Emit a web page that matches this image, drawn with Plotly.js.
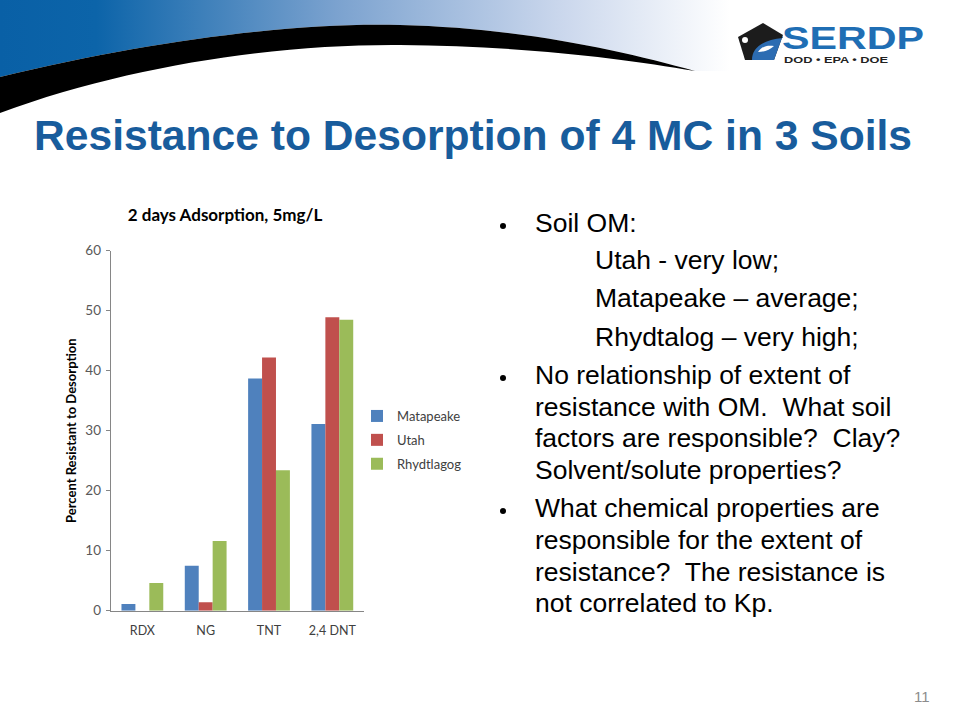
<!DOCTYPE html>
<html>
<head>
<meta charset="utf-8">
<script src="https://cdn.plot.ly/plotly-3.0.1.min.js"></script>
<style>
  html, body { margin:0; padding:0; background:#ffffff; width:960px; height:720px; overflow:hidden; }
  #bg { position:absolute; left:0; top:0; width:960px; height:720px; }
  .t { position:absolute; font-family:"Liberation Sans", Arial, sans-serif; white-space:nowrap; line-height:1; }
  .b { font-size:26.5px; color:#000; }
  .dot { position:absolute; width:6px; height:6px; border-radius:50%; background:#000; }
  #chart { position:absolute; left:0; top:0; width:960px; height:720px; }
</style>
</head>
<body>
<svg id="bg" width="960" height="720" xmlns="http://www.w3.org/2000/svg">
  <defs>
    <linearGradient id="hg" x1="0" y1="0" x2="960" y2="0" gradientUnits="userSpaceOnUse">
      <stop offset="0" stop-color="#0960a6"/>
      <stop offset="0.10" stop-color="#0c64a9"/>
      <stop offset="0.35" stop-color="#7ba2cf"/>
      <stop offset="0.58" stop-color="#c9d6ec"/>
      <stop offset="0.76" stop-color="#ffffff"/>
    </linearGradient>
  </defs>
  <path d="M0,0 H740 V90 H0 Z" fill="url(#hg)"/>
  <path d="M0,77 C150,40 300,22 400,25 C520,28 620,50 695,71 L740,71 L740,140 L0,140 Z" fill="#ffffff"/>
  <path d="M0,77 C150,40 300,22 400,25 C520,28 620,50 695,71 C620,58 520,46 400,45 C280,44 130,65 0,113 Z" fill="#000000"/>
  <!-- logo -->
  <path d="M763,23 L783,35 L774,60 L745,60 L738,37 Z" fill="#1c1c1c"/>
  <path d="M783,35 L774,60 L752,60 C752,48 762,40 783,38 Z" fill="#2c6cb2"/>
  <circle cx="745" cy="40" r="3" fill="#ffffff"/>
  <path d="M758,52 C762,46 768,45 774,46 C770,50 764,52 758,52 Z" fill="#ffffff"/>
  <text x="782" y="48.5" font-family="Liberation Sans, Arial, sans-serif" font-weight="bold" font-size="32" fill="#1f6eb4" textLength="142" lengthAdjust="spacingAndGlyphs">SERDP</text>
  <text x="784" y="63" font-family="Liberation Sans, Arial, sans-serif" font-weight="bold" font-size="9.5" fill="#222222" textLength="104" lengthAdjust="spacingAndGlyphs">DOD • EPA • DOE</text>
</svg>

<div class="t" style="left:34px; top:114px; font-size:42.6px; font-weight:bold; color:#185c9c;">Resistance to Desorption of 4 MC in 3 Soils</div>

<div class="dot" style="left:500px; top:223px;"></div>
<div class="t b" style="left:535px; top:210px;">Soil OM:</div>
<div class="t b" style="left:595px; top:247px;">Utah - very low;</div>
<div class="t b" style="left:595px; top:285px;">Matapeake – average;</div>
<div class="t b" style="left:595px; top:324px;">Rhydtalog – very high;</div>
<div class="dot" style="left:500px; top:375px;"></div>
<div class="t b" style="left:535px; top:362px;">No relationship of extent of</div>
<div class="t b" style="left:535px; top:394px;">resistance with OM.&nbsp; What soil</div>
<div class="t b" style="left:535px; top:425px;">factors are responsible?&nbsp; Clay?</div>
<div class="t b" style="left:535px; top:457px;">Solvent/solute properties?</div>
<div class="dot" style="left:500px; top:508px;"></div>
<div class="t b" style="left:535px; top:495px;">What chemical properties are</div>
<div class="t b" style="left:535px; top:527px;">responsible for the extent of</div>
<div class="t b" style="left:535px; top:559px;">resistance?&nbsp; The resistance is</div>
<div class="t b" style="left:535px; top:590px;">not correlated to Kp.</div>

<div class="t" style="left:914px; top:689px; font-size:15px; color:#8c8c8c;">11</div>

<div id="chart"></div>
<script>
const categories = ["RDX", "NG", "TNT", "2,4 DNT"];
const seriesNames = ["Matapeake", "Utah", "Rhydtlagog"];
const matapeake = [1.1, 7.5, 38.7, 31.1];
const utah = [0, 1.4, 42.2, 48.9];
const rhydtlagog = [4.6, 11.6, 23.4, 48.5];
const yTicks = [0, 10, 20, 30, 40, 50, 60];
const colors = ["#4f81bd", "#c0504d", "#9bbb59"];
const values = [matapeake, utah, rhydtlagog];

const font = "Lato, 'Open Sans', sans-serif";
const traces = values.map((v, i) => ({
  type: "bar",
  name: seriesNames[i],
  x: categories,
  y: v,
  marker: { color: colors[i] },
  legendgroup: "g" + i,
  hoverinfo: "x+y+name"
}));

const layout = {
  width: 960, height: 720,
  margin: { l: 0, r: 0, t: 0, b: 0 },
  paper_bgcolor: "rgba(0,0,0,0)",
  plot_bgcolor: "rgba(0,0,0,0)",
  barmode: "group",
  bargap: 0.34,
  bargroupgap: 0,
  showlegend: true,
  title: {
    text: "<b>2 days Adsorption, 5mg/L</b>",
    font: { family: font, size: 17, color: "#000000" },
    x: 225 / 960, xref: "paper", xanchor: "center",
    y: 1 - 215 / 720, yref: "paper", yanchor: "middle"
  },
  legend: {
    x: 357 / 960, xanchor: "left",
    y: 1 - 401 / 720, yanchor: "top",
    font: { family: font, size: 13, color: "#404040" },
    bgcolor: "rgba(0,0,0,0)",
    tracegroupgap: 4,
    itemwidth: 30
  },
  xaxis: {
    domain: [110.7 / 960, 364 / 960],
    type: "category",
    showline: true, linecolor: "#868686", linewidth: 1,
    ticks: "", showgrid: false, zeroline: false,
    tickfont: { family: font, size: 12.5, color: "#404040" },
    ticklabelstandoff: 8,
    fixedrange: true
  },
  yaxis: {
    domain: [1 - 610.7 / 720, 1 - 250.7 / 720],
    range: [0, 60],
    tickvals: yTicks,
    showline: true, linecolor: "#868686", linewidth: 1,
    ticks: "outside", ticklen: 4, tickcolor: "#868686",
    showgrid: false, zeroline: false,
    tickfont: { family: font, size: 13.5, color: "#595959" },
    ticklabelstandoff: 2,
    title: {
      text: "<b>Percent Resistant to Desorption</b>",
      font: { family: font, size: 13, color: "#000000" },
      standoff: 5
    },
    fixedrange: true
  }
};

Plotly.newPlot("chart", traces, layout, { displayModeBar: false });
</script>
</body>
</html>
